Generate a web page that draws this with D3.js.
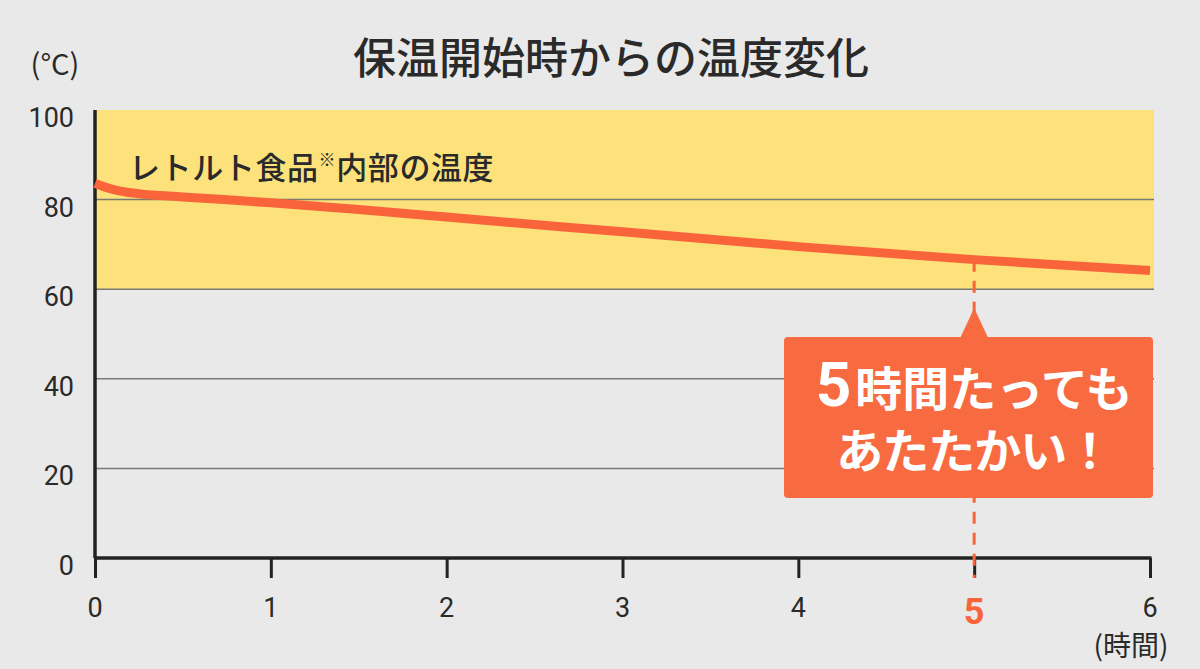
<!DOCTYPE html>
<html lang="ja">
<head>
<meta charset="utf-8">
<title>保温開始時からの温度変化</title>
<script src="https://d3js.org/d3.v7.min.js"></script>
<style>
  body { margin: 0; background: #e9e9e9; }
  svg { display: block; }
  text { font-family: "Noto Sans CJK JP", "Noto Sans", sans-serif; fill: #2a2a2a; }
  .num { font-family: Roboto, "Noto Sans", sans-serif; }
</style>
</head>
<body>
<div id="chart"></div>
<script>
// data
var hours = [0, 0.1, 0.25, 0.5, 1, 1.5, 2, 3, 4, 5, 6];
var temps = [83.6, 82.3, 81.3, 80.6, 79.3, 77.8, 76.1, 72.8, 69.5, 66.6, 64.2];
var xTicks = [0, 1, 2, 3, 4, 5, 6];
var yTicks = [0, 20, 40, 60, 80, 100];
var gridValues = [20, 40, 60, 80];
var bandRange = [60, 100];
var highlightHour = 5;

var title = "保温開始時からの温度変化";
var seriesLabel = "レトルト食品";
var seriesLabelRest = "内部の温度";
var calloutLine1 = "時間たっても";
var calloutLine2 = "あたたかい！";

var W = 1200, H = 669;
var orange = "#fa643a";

var svg = d3.select("#chart").append("svg")
  .attr("width", W).attr("height", H);

var x = d3.scaleLinear().domain([0, 6]).range([95, 1150]);
var y = d3.scaleLinear().domain([0, 100]).range([558, 110]);

// yellow band 60-100
svg.append("rect")
  .attr("x", x(0)).attr("y", y(bandRange[1]))
  .attr("width", x(6) + 4 - x(0)).attr("height", y(bandRange[0]) - y(bandRange[1]))
  .attr("fill", "#fde27c");

// grid lines
svg.append("g").selectAll("line").data(gridValues).enter().append("line")
  .attr("x1", x(0)).attr("x2", x(6) + 4)
  .attr("y1", d => y(d)).attr("y2", d => y(d))
  .attr("stroke", "#7a7a72").attr("stroke-width", 1.5);

// x axis ticks (downward) and axis lines
var xAxis = d3.axisBottom(x).tickValues(xTicks).tickSize(20).tickFormat("");
svg.append("g").attr("transform", "translate(0," + y(0) + ")")
  .call(xAxis)
  .call(g => g.select(".domain").remove())
  .call(g => g.selectAll(".tick line").attr("stroke", "#222").attr("stroke-width", 3));

svg.append("line")
  .attr("x1", x(0)).attr("x2", x(6) + 1.5)
  .attr("y1", y(0)).attr("y2", y(0))
  .attr("stroke", "#222").attr("stroke-width", 3.5);
svg.append("line")
  .attr("x1", x(0)).attr("x2", x(0))
  .attr("y1", y(100)).attr("y2", y(0))
  .attr("stroke", "#222").attr("stroke-width", 3.5);

// x tick labels
svg.append("g").selectAll("text").data(xTicks).enter().append("text")
  .attr("class", "num")
  .attr("x", d => x(d)).attr("y", 617)
  .attr("text-anchor", "middle")
  .attr("font-size", d => d === highlightHour ? 36 : 27)
  .attr("font-weight", d => d === highlightHour ? "bold" : "normal")
  .style("fill", d => d === highlightHour ? orange : "#2a2a2a")
  .attr("dy", d => d === highlightHour ? 7 : 0)
  .text(d => d);

// y tick labels
svg.append("g").selectAll("text").data(yTicks).enter().append("text")
  .attr("class", "num")
  .attr("x", 74).attr("y", d => y(d) + 17)
  .attr("text-anchor", "end")
  .attr("font-size", 27)
  .text(d => d);

// unit labels
svg.append("text").attr("x", 55).attr("y", 75).attr("text-anchor", "middle")
  .attr("font-size", 29).text("(°C)");
svg.append("text").attr("x", 1131).attr("y", 656).attr("text-anchor", "middle")
  .attr("font-size", 28).text("(時間)");

// title
svg.append("text").attr("x", 611).attr("y", 74).attr("text-anchor", "middle")
  .attr("font-size", 43).attr("font-weight", 500).text(title);

// series label
var lab = svg.append("text").attr("x", 129).attr("y", 179).attr("font-size", 31)
  .attr("font-weight", 500).attr("letter-spacing", 0.6);
lab.append("tspan").text(seriesLabel);
lab.append("tspan").attr("font-size", 17).attr("dy", -13).text("※");
lab.append("tspan").attr("dy", 13).text(seriesLabelRest);

// dashed marker at 5 hours
svg.append("line")
  .attr("x1", x(highlightHour)).attr("x2", x(highlightHour))
  .attr("y1", y(66.6)).attr("y2", 578)
  .attr("stroke", orange).attr("stroke-width", 3)
  .attr("stroke-dasharray", "12,9");

// temperature line
var line = d3.line()
  .x((d, i) => x(hours[i]))
  .y(d => y(d))
  .curve(d3.curveMonotoneX);
svg.append("path").datum(temps)
  .attr("d", line)
  .attr("fill", "none")
  .attr("stroke", orange)
  .attr("stroke-width", 9)
  .attr("stroke-linecap", "butt");

// callout
var cx = x(highlightHour);
var callout = svg.append("g");
callout.append("rect")
  .attr("x", 784).attr("y", 337).attr("width", 369).attr("height", 161)
  .attr("rx", 4).attr("fill", "#f86a40");
callout.append("path")
  .attr("d", "M" + (cx - 14) + ",338 L" + cx + ",308 L" + (cx + 14) + ",338 Z")
  .attr("fill", "#f86a40");
var t1 = callout.append("text").attr("x", cx).attr("y", 406).attr("text-anchor", "middle")
  .attr("font-weight", "bold").style("fill", "#fff");
t1.append("tspan").attr("class", "num").attr("font-size", 62).style("fill", "#fff").text(highlightHour);
t1.append("tspan").attr("font-size", 47).attr("dx", 4).style("fill", "#fff").text(calloutLine1);
callout.append("text").attr("x", cx).attr("y", 468).attr("text-anchor", "middle")
  .attr("font-weight", "bold").attr("font-size", 47).attr("letter-spacing", -1)
  .style("fill", "#fff").text(calloutLine2);
</script>
</body>
</html>
